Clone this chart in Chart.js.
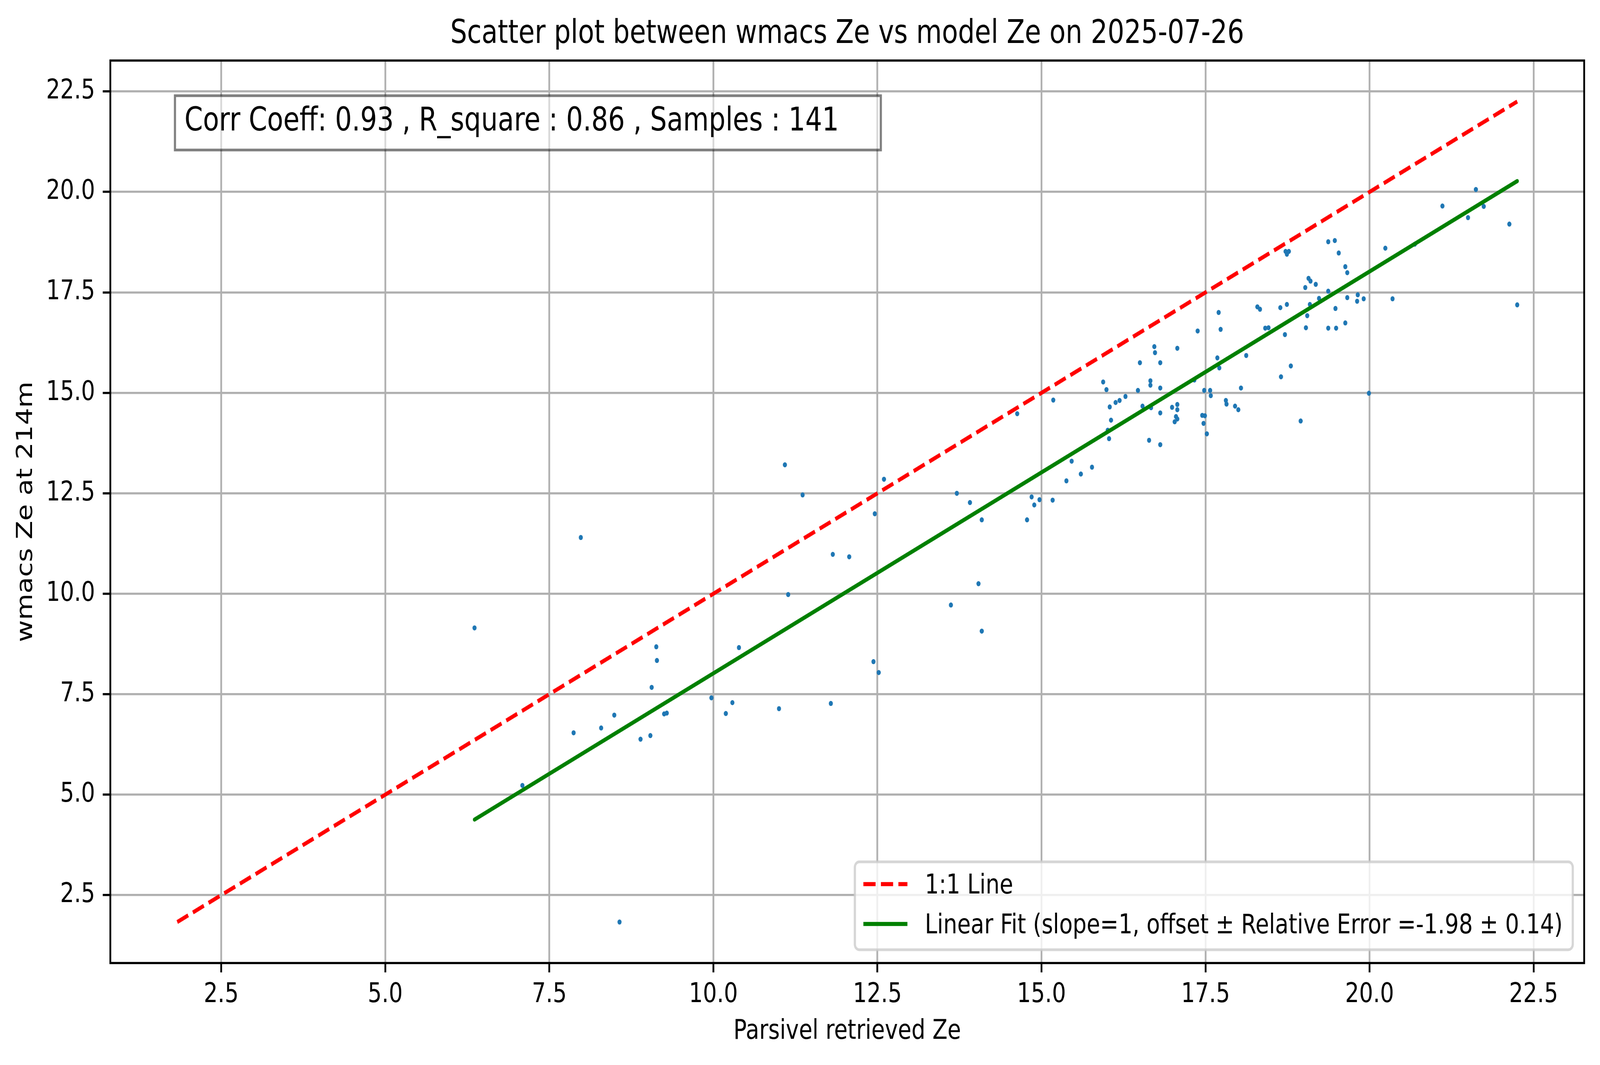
<!DOCTYPE html>
<html>
<head>
<meta charset="utf-8">
<script src="https://cdn.jsdelivr.net/npm/chart.js@4.4.1/dist/chart.umd.min.js"></script>
<style>
html,body{margin:0;padding:0;background:#ffffff;overflow:hidden;}
canvas{display:block;}
</style>
</head>
<body>
<canvas id="c" width="5048" height="2726"></canvas>
<script>
// ---------------- data ----------------
const xValues = [
  7.98, 6.36, 9.13, 9.14, 10.39,
  9.06, 7.87, 8.29, 8.49, 8.89, 9.04, 9.25, 9.29, 9.97, 10.29, 10.19, 7.09, 8.57,
  11.00, 11.79,
  11.09, 11.36, 12.60, 12.46, 11.82, 12.07, 11.14, 14.63, 13.71, 13.91, 14.09, 14.85, 14.89, 14.78, 14.04, 13.62, 14.09, 12.44, 12.52,
  18.71, 16.72, 16.73, 17.07, 16.50, 16.81, 17.68, 17.71, 18.12, 18.80, 18.65,
  15.94, 15.99, 16.47, 16.66, 16.66, 16.81, 17.33, 17.48, 17.57, 17.58, 18.04,
  15.18, 16.28, 16.19, 16.13, 16.04, 16.54, 16.67, 17.07, 17.07, 16.99, 16.81,
  17.81, 17.82, 17.95, 18.00, 16.06, 17.05, 17.07, 17.03, 17.45, 17.49, 17.47, 17.52,
  16.01, 16.03, 16.64, 16.81, 15.46, 15.77, 15.60, 15.38, 15.17, 14.97,
  17.38, 17.70, 17.73, 18.29, 18.33, 18.41, 18.46, 18.64, 18.74, 18.72, 18.77, 18.74,
  19.37, 19.47, 19.53, 19.63, 19.66, 19.07, 19.10, 19.18, 19.02, 19.37, 19.23, 19.66,
  19.82, 19.81, 19.91, 19.09, 19.48, 19.05, 19.03, 19.37, 19.49, 19.63,
  20.24, 20.69, 20.35, 21.11, 21.62, 21.74, 21.50, 22.13, 22.25,
  19.99, 18.95
];
const yValues = [
  11.40, 9.15, 8.68, 8.34, 8.66,
  7.67, 6.54, 6.66, 6.98, 6.38, 6.47, 7.01, 7.03, 7.41, 7.29, 7.02, 5.23, 1.83,
  7.14, 7.27,
  13.21, 12.46, 12.85, 11.99, 10.98, 10.92, 9.98, 14.48, 12.50, 12.27, 11.84, 12.41, 12.21, 11.84, 10.25, 9.72, 9.07, 8.31, 8.04,
  16.45, 16.15, 16.00, 16.11, 15.75, 15.75, 15.87, 15.62, 15.93, 15.67, 15.40,
  15.27, 15.08, 15.06, 15.30, 15.19, 15.12, 15.32, 15.06, 15.06, 14.93, 15.12,
  14.82, 14.91, 14.81, 14.76, 14.65, 14.67, 14.63, 14.71, 14.58, 14.64, 14.50,
  14.81, 14.72, 14.67, 14.58, 14.32, 14.41, 14.35, 14.28, 14.44, 14.43, 14.24, 13.98,
  14.07, 13.86, 13.82, 13.71, 13.30, 13.15, 12.98, 12.81, 12.33, 12.34,
  16.54, 17.00, 16.58, 17.14, 17.08, 16.61, 16.62, 17.12, 17.20, 18.52, 18.52, 18.45,
  18.76, 18.79, 18.48, 18.14, 17.99, 17.85, 17.78, 17.70, 17.62, 17.53, 17.35, 17.37,
  17.44, 17.28, 17.34, 17.20, 17.10, 16.92, 16.62, 16.61, 16.61, 16.74,
  18.60, 18.70, 17.34, 19.65, 20.06, 19.64, 19.36, 19.20, 17.19,
  14.99, 14.30
];
const oneToOneX = [1.83, 22.25];
const oneToOneY = [1.83, 22.25];
const fitX = [6.36, 22.25];
const fitY = [4.38, 20.27];
const xTicks = [2.5, 5.0, 7.5, 10.0, 12.5, 15.0, 17.5, 20.0, 22.5];
const yTicks = [2.5, 5.0, 7.5, 10.0, 12.5, 15.0, 17.5, 20.0, 22.5];
const xRange = [0.81, 23.27];
const yRange = [0.81, 23.27];
const titleText = 'Scatter plot between wmacs Ze vs model Ze on 2025-07-26';
const xLabel = 'Parsivel retrieved Ze';
const yLabel = 'wmacs Ze at 214m';
const statsText = 'Corr Coeff: 0.93 , R_square : 0.86 , Samples : 141';
const legendLabels = ['1:1 Line', 'Linear Fit (slope=1, offset \u00b1 Relative Error =-1.98 \u00b1 0.14)'];

// ---------------- build ----------------
const FONT = "'DejaVu Sans', 'Liberation Sans', sans-serif";
Chart.defaults.font.family = FONT;
Chart.defaults.color = '#000000';

// The chart is laid out in a 5048x2726 design space and the canvas is
// displayed filling the whole viewport.
const canvasEl = document.getElementById('c');
const viewW = window.innerWidth || 5048;
const viewH = window.innerHeight || Math.round(2726 * viewW / 5048);
canvasEl.style.width = viewW + 'px';
canvasEl.style.height = viewH + 'px';
const DPR = (window.devicePixelRatio || 1) * Math.max(viewW / 5048, viewH / 2726);

const pairs = (xs, ys) => xs.map((x, i) => ({x: x, y: ys[i]}));

const DASH = [38.5, 16.7];
const LW = 10.4;

const overlay = {
  id: 'overlay',
  afterDatasetsDraw(chart) {
    const ctx = chart.ctx;
    const a = chart.chartArea;
    ctx.save();
    // frame (spines)
    ctx.strokeStyle = '#000000';
    ctx.lineWidth = 5.6;
    ctx.setLineDash([]);
    ctx.strokeRect(a.left, a.top, a.right - a.left, a.bottom - a.top);

    // stats text box
    const bx = a.left + 204, by = a.top + 90, bw = 2227, bh = 139;
    ctx.fillStyle = 'rgba(255,255,255,0.5)';
    ctx.fillRect(bx, by, bw, bh);
    ctx.strokeStyle = 'rgba(0,0,0,0.5)';
    ctx.lineWidth = 6.9;
    ctx.strokeRect(bx, by, bw, bh);
    ctx.fillStyle = '#000000';
    ctx.font = '83.3px ' + FONT;
    ctx.textBaseline = 'alphabetic';
    ctx.textAlign = 'left';
    ctx.fillText(statsText, bx + 30, by + 89);

    // legend
    const lw = 2265, lh = 225;
    const lx = a.right - 36 - lw, ly = a.bottom - 34 - lh;
    const r = 14;
    ctx.beginPath();
    ctx.moveTo(lx + r, ly);
    ctx.lineTo(lx + lw - r, ly);
    ctx.arcTo(lx + lw, ly, lx + lw, ly + r, r);
    ctx.lineTo(lx + lw, ly + lh - r);
    ctx.arcTo(lx + lw, ly + lh, lx + lw - r, ly + lh, r);
    ctx.lineTo(lx + r, ly + lh);
    ctx.arcTo(lx, ly + lh, lx, ly + lh - r, r);
    ctx.lineTo(lx, ly + r);
    ctx.arcTo(lx, ly, lx + r, ly, r);
    ctx.closePath();
    ctx.fillStyle = 'rgba(255,255,255,0.8)';
    ctx.fill();
    ctx.strokeStyle = 'rgba(204,204,204,0.8)';
    ctx.lineWidth = 6.9;
    ctx.stroke();

    const rows = [ly + 57, ly + 159];
    const hx0 = lx + 27, hx1 = lx + 166;
    ctx.beginPath();
    ctx.strokeStyle = '#ff0000';
    ctx.lineWidth = LW;
    ctx.lineCap = 'butt';
    ctx.setLineDash(DASH);
    ctx.moveTo(hx0, rows[0]);
    ctx.lineTo(hx1, rows[0]);
    ctx.stroke();
    ctx.beginPath();
    ctx.setLineDash([]);
    ctx.strokeStyle = '#008000';
    ctx.moveTo(hx0, rows[1]);
    ctx.lineTo(hx1, rows[1]);
    ctx.stroke();

    ctx.fillStyle = '#000000';
    ctx.font = '69.4px ' + FONT;
    ctx.textBaseline = 'alphabetic';
    ctx.fillText(legendLabels[0], lx + 221, rows[0] + 24);
    ctx.fillText(legendLabels[1], lx + 221, rows[1] + 24);
    ctx.restore();
  }
};

const tickFont = {size: 69.4, family: FONT};
const gridOpts = {
  color: '#b0b0b0',
  lineWidth: 5.6,
  drawTicks: true,
  tickLength: 24,
  tickColor: '#000000',
  tickWidth: 5.6
};

new Chart(canvasEl, {
  type: 'scatter',
  data: {
    datasets: [
      {
        label: legendLabels[0],
        data: pairs(oneToOneX, oneToOneY),
        showLine: true,
        borderColor: '#ff0000',
        borderWidth: LW,
        borderDash: DASH,
        borderCapStyle: 'butt',
        pointRadius: 0,
        fill: false,
        order: 2
      },
      {
        label: legendLabels[1],
        data: pairs(fitX, fitY),
        showLine: true,
        borderColor: '#008000',
        borderWidth: LW,
        borderCapStyle: 'round',
        pointRadius: 0,
        fill: false,
        order: 1
      },
      {
        label: 'data',
        data: pairs(xValues, yValues),
        backgroundColor: '#1f77b4',
        borderWidth: 0,
        pointRadius: 6.5,
        pointHoverRadius: 6.5,
        order: 3
      }
    ]
  },
  options: {
    responsive: false,
    maintainAspectRatio: false,
    devicePixelRatio: DPR,
    animation: false,
    events: [],
    layout: {padding: {left: 0, right: 50, top: 0, bottom: 0}},
    plugins: {
      legend: {display: false},
      tooltip: {enabled: false},
      title: {
        display: true,
        text: titleText,
        fullSize: false,
        color: '#000000',
        font: {size: 83.3, weight: 'normal', family: FONT, lineHeight: 1.2},
        padding: {top: 38, bottom: 17}
      }
    },
    scales: {
      x: {
        type: 'linear',
        position: 'bottom',
        min: xRange[0],
        max: xRange[1],
        afterBuildTicks: s => { s.ticks = xTicks.map(v => ({value: v})); },
        afterFit: s => { s.height = 261; },
        ticks: {
          font: tickFont,
          color: '#000000',
          padding: 16,
          maxRotation: 0,
          autoSkip: false,
          callback: v => Number(v).toFixed(1)
        },
        grid: gridOpts,
        border: {display: false},
        title: {
          display: true,
          text: xLabel,
          color: '#000000',
          font: {size: 69.4, family: FONT, lineHeight: 1.2},
          padding: {top: 0, bottom: 43}
        }
      },
      y: {
        type: 'linear',
        position: 'left',
        min: yRange[0],
        max: yRange[1],
        afterBuildTicks: s => { s.ticks = yTicks.map(v => ({value: v})); },
        afterFit: s => { s.width = 348; },
        ticks: {
          font: tickFont,
          color: '#000000',
          padding: 24,
          autoSkip: false,
          callback: v => Number(v).toFixed(1)
        },
        grid: gridOpts,
        border: {display: false},
        title: {
          display: true,
          text: yLabel,
          color: '#000000',
          font: {size: 69.4, family: FONT, lineHeight: 1.2},
          padding: {top: 41, bottom: 0}
        }
      }
    }
  },
  plugins: [overlay]
});
</script>
</body>
</html>
